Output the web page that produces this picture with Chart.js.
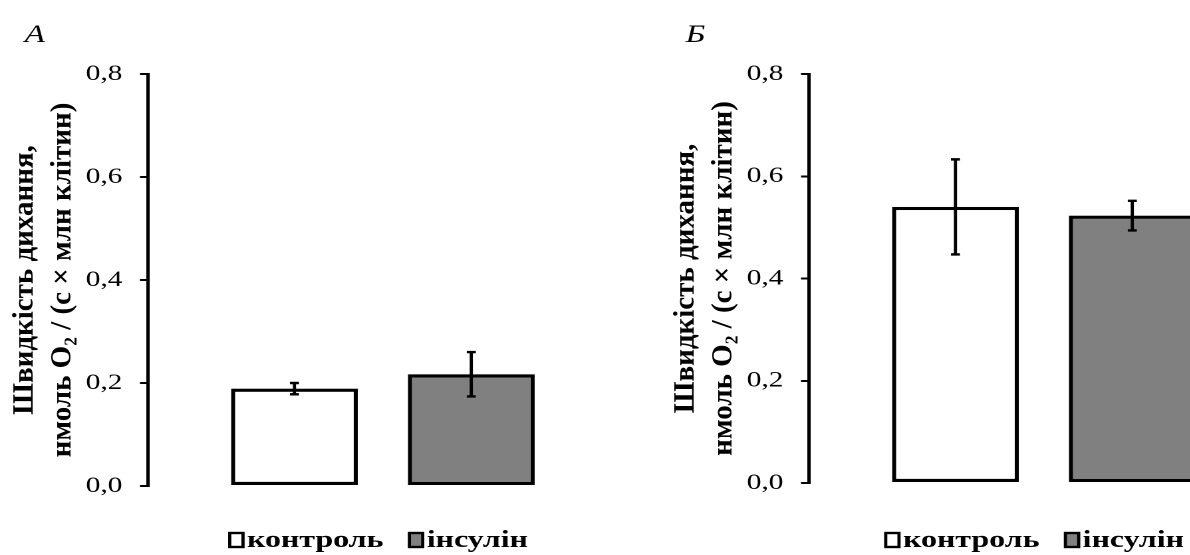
<!DOCTYPE html>
<html>
<head>
<meta charset="utf-8">
<script src="https://cdn.jsdelivr.net/npm/chart.js@4.4.1/dist/chart.umd.min.js"></script>
<style>
html, body { margin: 0; padding: 0; background: #fff; width: 1190px; height: 555px; overflow: hidden; position: relative; }
.panel { position: absolute; top: 0; transform-origin: 0 0; }
</style>
</head>
<body>
<div class="panel" id="wrapA"><canvas id="chartA"></canvas></div>
<div class="panel" id="wrapB"><canvas id="chartB"></canvas></div>
<script>
const seriesNames = ['контроль', 'інсулін'];
const seriesColors = ['#ffffff', '#808080'];
const valuesA = [0.189, 0.217];
const errorsA = [0.011, 0.043];
const valuesB = [0.540, 0.523];
const errorsB = [0.093, 0.029];
const tickLabels = ['0,0', '0,2', '0,4', '0,6', '0,8'];
const axisTitle = ['Швидкість дихання,', 'нмоль O₂ / (с × млн клітин)'];
const panelNames = ['А', 'Б'];

// the original chart is stretched sideways (not its axis title), so each panel
// is drawn narrow and scaled in x
const sx = 1.33;
const serif = '"Liberation Serif", "Times New Roman", serif';
const W = 640 / sx;

function extras(letter, errors, legendShift) {
  return {
    id: 'extras' + letter,
    afterDatasetsDraw(chart) {
      const ctx = chart.ctx;
      const y = chart.scales.y;
      ctx.save();
      ctx.strokeStyle = '#000';
      ctx.lineWidth = 2.4;
      chart.data.datasets.forEach((ds, i) => {
        const bar = chart.getDatasetMeta(i).data[0];
        const v = ds.data[0], e = errors[i];
        const top = y.getPixelForValue(v + e), bot = y.getPixelForValue(v - e);
        ctx.beginPath();
        ctx.moveTo(bar.x, top); ctx.lineTo(bar.x, bot);
        ctx.moveTo(bar.x - 3.4, top); ctx.lineTo(bar.x + 3.4, top);
        ctx.moveTo(bar.x - 3.4, bot); ctx.lineTo(bar.x + 3.4, bot);
        ctx.stroke();
      });
      ctx.restore();
    },
    afterDraw(chart) {
      const ctx = chart.ctx;
      const area = chart.chartArea;
      ctx.save();
      ctx.fillStyle = '#000';

      // axis title, not stretched
      ctx.font = 'bold 29px ' + serif;
      ctx.textAlign = 'center';
      ctx.textBaseline = 'middle';
      const cy = (area.top + area.bottom) / 2;
      [25, 63].forEach((xr, i) => {
        ctx.save();
        ctx.translate(xr / sx, cy);
        ctx.scale(1 / sx, 1);
        ctx.rotate(-Math.PI / 2);
        ctx.fillText(axisTitle[i], 0, 0);
        ctx.restore();
      });

      // panel letter
      ctx.textAlign = 'left';
      ctx.font = 'italic 25px ' + serif;
      ctx.textBaseline = 'alphabetic';
      ctx.fillText(letter, 18.5, 42);

      // legend under the bars
      ctx.font = 'bold 24px ' + serif;
      const boxW = 10, boxH = 14, gap = 3, spacing = 19.5;
      const widths = chart.data.datasets.map(ds => ctx.measureText(ds.label).width);
      let total = spacing * (widths.length - 1);
      widths.forEach(w => { total += boxW + gap + w; });
      let x = (area.left + area.right) / 2 + legendShift / sx - total / 2;
      const ly = 540;
      chart.data.datasets.forEach((ds, i) => {
        ctx.fillStyle = ds.backgroundColor;
        ctx.fillRect(x, ly - boxH / 2, boxW, boxH);
        ctx.lineWidth = 2.4;
        ctx.strokeStyle = '#000';
        ctx.strokeRect(x, ly - boxH / 2, boxW, boxH);
        ctx.fillStyle = '#000';
        ctx.textBaseline = 'middle';
        ctx.fillText(ds.label, x + boxW + gap, ly + 1);
        x += boxW + gap + widths[i] + spacing;
      });
      ctx.restore();
    }
  };
}

function makePanel(canvasId, wrapId, left, letter, values, errors, bottom, legendShift) {
  const wrap = document.getElementById(wrapId);
  wrap.style.left = left + 'px';
  wrap.style.transform = 'scaleX(' + sx + ')';
  const canvas = document.getElementById(canvasId);
  canvas.width = W;
  canvas.height = 555;

  const data = {
    labels: [''],
    datasets: seriesNames.map((name, i) => ({
      label: name,
      data: [values[i]],
      backgroundColor: seriesColors[i],
      borderColor: '#000',
      borderWidth: 3.2,
      borderSkipped: false,
      categoryPercentage: 0.753,
      barPercentage: 0.7175,
    }))
  };

  return new Chart(canvas, {
    type: 'bar',
    data: data,
    options: {
      responsive: false,
      animation: false,
      devicePixelRatio: 2,
      layout: { padding: { top: 74, bottom: 555 - bottom, left: 0, right: (640 - 618) / sx } },
      plugins: { legend: { display: false }, tooltip: { enabled: false } },
      scales: {
        x: { display: false },
        y: {
          min: 0,
          max: 0.8,
          afterFit: s => { s.width = 148 / sx; },
          ticks: {
            stepSize: 0.2,
            padding: 13.3,
            color: '#000',
            font: { family: serif, size: 22 },
            callback: (v, i) => tickLabels[i],
          },
          grid: { display: true, drawOnChartArea: false, drawTicks: true, tickLength: 8 / sx, color: '#000', lineWidth: 2 },
          border: { display: true, color: '#000', width: 2.5 },
          title: { display: false }
        }
      }
    },
    plugins: [extras(letter, errors, legendShift)]
  });
}

const chartA = makePanel('chartA', 'wrapA', 0, panelNames[0], valuesA, errorsA, 486, -4);
const chartB = makePanel('chartB', 'wrapB', 661, panelNames[1], valuesB, errorsB, 483, -9);
</script>
</body>
</html>
